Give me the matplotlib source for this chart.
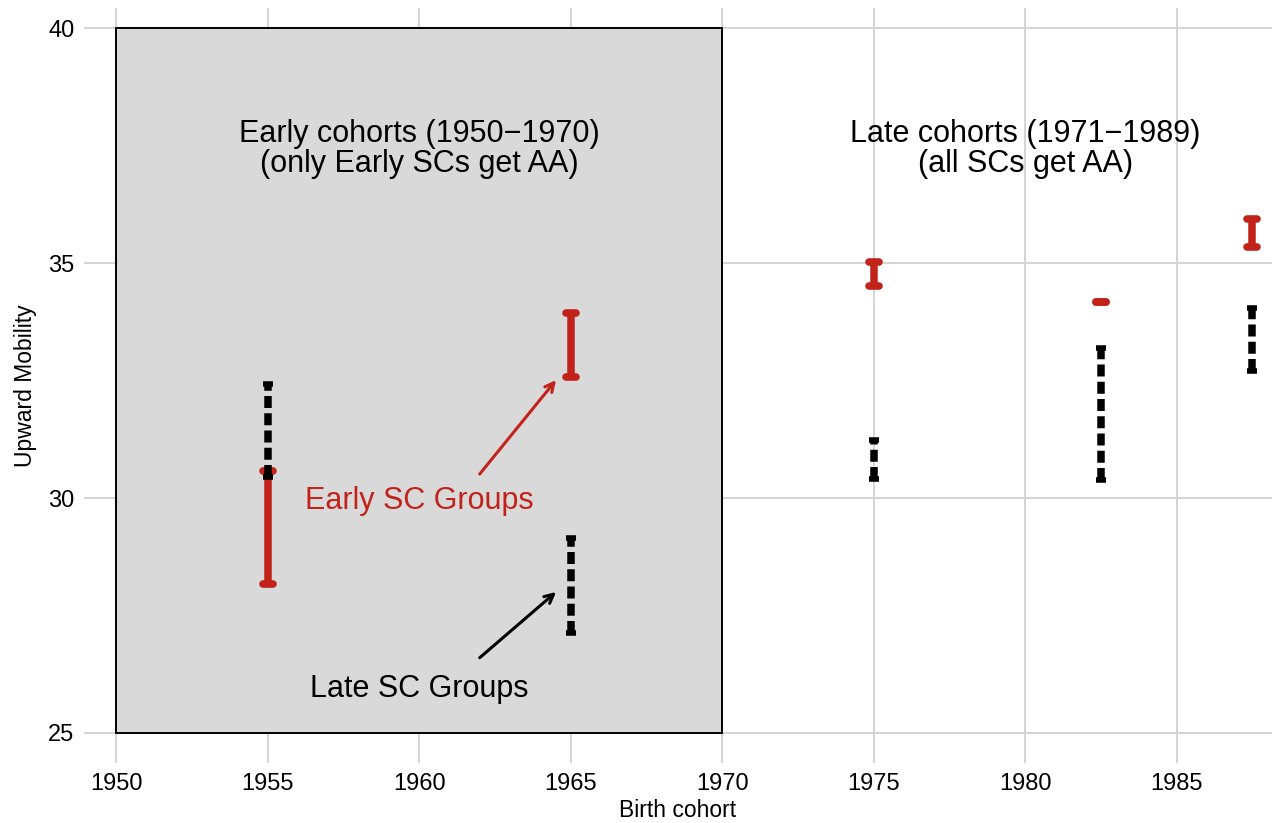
import matplotlib
matplotlib.use("Agg")
import matplotlib.pyplot as plt
from matplotlib.patches import Rectangle
from matplotlib.markers import MarkerStyle

plt.rcParams['font.family'] = ['Liberation Sans', 'DejaVu Sans']

# data
cohort = [1955, 1965, 1975, 1982.5, 1987.5]
early_lo = [28.17, 32.57, 34.51, 34.17, 35.34]
early_hi = [30.57, 33.94, 35.02, 34.17, 35.94]
late_lo = [30.45, 27.13, 30.40, 30.38, 32.70]
late_hi = [32.43, 29.15, 31.23, 33.19, 34.04]

early_period = (1950, 1970)
y_range = (25, 40)
xticks = [1950, 1955, 1960, 1965, 1970, 1975, 1980, 1985]
yticks = [25, 30, 35, 40]

red = '#C1231A'
grid_col = '#D4D4D4'

fig = plt.figure(figsize=(12.75, 8.23), dpi=100)
ax = fig.add_axes([84 / 1275, 1 - 763 / 823, (1272 - 84) / 1275, (763 - 8) / 823])
ax.set_xlim(1948.94, 1988.15)
ax.set_ylim(24.36, 40.43)

ax.set_xticks(xticks)
ax.set_yticks(yticks)
ax.grid(True, color=grid_col, lw=1.4)
ax.set_axisbelow(True)
ax.tick_params(length=0, pad=7, labelsize=17)
for s in ax.spines.values():
    s.set_visible(False)

# shaded early-cohort panel
ax.add_patch(Rectangle((early_period[0], y_range[0]), early_period[1] - early_period[0],
                       y_range[1] - y_range[0], facecolor='#D9D9D9', edgecolor='black',
                       lw=1.4, zorder=1, clip_on=False))


def draw_bars(lo, hi, color, ls, cap_ms, cap_mew, capstyle):
    mid = [(a + b) / 2 for a, b in zip(lo, hi)]
    err = [[m - a for m, a in zip(mid, lo)], [b - m for m, b in zip(mid, hi)]]
    _, caps, bars = ax.errorbar(cohort, mid, yerr=err, fmt='none', ecolor=color,
                                elinewidth=5.4, capsize=cap_ms, capthick=cap_mew, zorder=3)
    for b in bars:
        b.set_linestyle(ls)
        b.set_capstyle('butt')
    for c in caps:
        c.set_marker(MarkerStyle('_', capstyle=capstyle))
        c.set_markersize(cap_ms)
        c.set_markeredgewidth(cap_mew)


draw_bars(early_lo, early_hi, red, '-', 6.5, 5.5, 'round')
draw_bars(late_lo, late_hi, 'black', (0, (1.6, 0.7)), 6.5, 4.0, 'butt')

# titles for the two periods
ax.text(1960, 37.57, 'Early cohorts (1950\u22121970)', ha='center', va='baseline', fontsize=22)
ax.text(1960, 36.94, '(only Early SCs get AA)', ha='center', va='baseline', fontsize=22)
ax.text(1980, 37.57, 'Late cohorts (1971\u22121989)', ha='center', va='baseline', fontsize=22)
ax.text(1980, 36.94, '(all SCs get AA)', ha='center', va='baseline', fontsize=22)

# group labels with arrows
ax.text(1960, 29.77, 'Early SC Groups', ha='center', va='baseline', fontsize=22, color=red)
ax.text(1960, 25.77, 'Late SC Groups', ha='center', va='baseline', fontsize=22, color='black')
ax.annotate('', xy=(1964.52, 32.51), xytext=(1962.0, 30.51),
            arrowprops=dict(arrowstyle='->', color=red, lw=2.2, mutation_scale=16,
                            shrinkA=0, shrinkB=0))
ax.annotate('', xy=(1964.52, 28.0), xytext=(1962.0, 26.6),
            arrowprops=dict(arrowstyle='->', color='black', lw=2.2, mutation_scale=16,
                            shrinkA=0, shrinkB=0))

ax.set_xlabel('Birth cohort', fontsize=16.5, labelpad=3)
ax.set_ylabel('Upward Mobility', fontsize=16.5, labelpad=8)

fig.savefig('out.png', dpi=100)
